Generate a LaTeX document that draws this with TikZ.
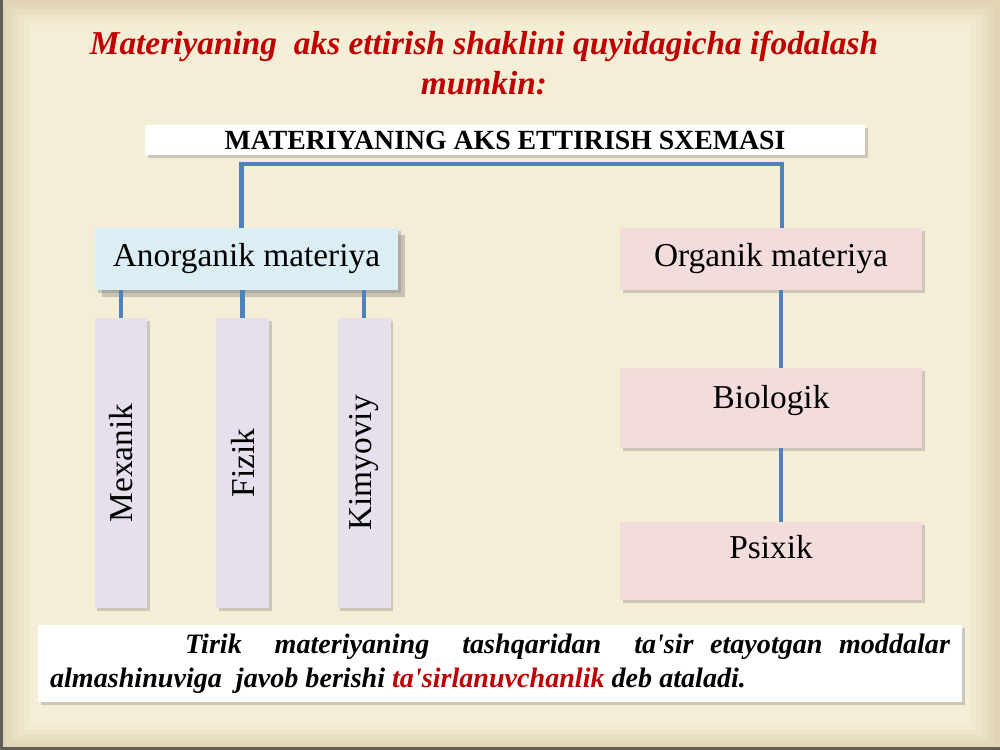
\documentclass[tikz,border=0pt]{standalone}
\usepackage{fontspec}
\setmainfont{Liberation Serif}
\usepackage{graphicx}
\usetikzlibrary{positioning,shadows}
\definecolor{titlered}{RGB}{192,0,0}
\definecolor{linkblue}{RGB}{79,129,189}
\definecolor{anorgblue}{RGB}{219,238,243}
\definecolor{orgpink}{RGB}{242,221,220}
\definecolor{kindlilac}{RGB}{229,224,236}
\definecolor{pagecream}{RGB}{245,238,215}
\definecolor{pagetan}{RGB}{224,212,180}
\definecolor{pageedge}{RGB}{95,95,85}

\begin{document}
\begin{tikzpicture}[
    x=0.02cm, y=-0.02cm,
    box/.style={rectangle, draw=none, inner sep=0pt, align=center, font=\fontsize{19}{23}\selectfont, drop shadow={shadow xshift=1.5pt, shadow yshift=-1.5pt, opacity=0.35}},
    kind/.style={box, fill=kindlilac, minimum width=1.06cm, minimum height=5.8cm},
    orgbox/.style={box, fill=orgpink, minimum width=6.04cm},
    link/.style={linkblue, line width=2.3pt}
]

% Page background, a soft frame
\fill[pagetan] (0,0) rectangle (1000,750);
\foreach \i in {1,...,5}
    \fill[pagecream!\the\numexpr 20*\i\relax!pagetan] (6*\i,5*\i) rectangle (1000-6*\i,750-5*\i);
\fill[pageedge] (0,0) rectangle (3,750);
\fill[pageedge] (0,747) rectangle (1000,750);
\useasboundingbox (0,0) rectangle (1000,750);

% Title and header
\node[align=center, text=titlered, font=\fontsize{19}{22.7}\selectfont\bfseries\itshape] (title) at (484,63)
    {Materiyaning\ \ aks ettirish shaklini quyidagicha ifodalash\\mumkin:};
\node[box, fill=white, minimum width=14.4cm, minimum height=0.6cm, font=\fontsize{15.8}{18}\selectfont\bfseries] (head) at (505,140)
    {MATERIYANING AKS ETTIRISH SXEMASI};

% Two main branches
\node[box, fill=anorgblue, minimum width=6.06cm, minimum height=1.24cm,
      drop shadow={shadow xshift=4pt, shadow yshift=-4pt, opacity=0.4}] (anorg) at (246.5,259) {Anorganik materiya};
\node[orgbox, minimum height=1.24cm] (org) at (771,259) {Organik materiya};

% Inorganic kinds
\node[kind] (mex) at (121,463) {\rotatebox{90}{Mexanik}};
\node[kind] (fiz) at (242.5,463) {\rotatebox{90}{Fizik}};
\node[kind] (kim) at (364,463) {\rotatebox{90}{Kimyoviy}};

% Organic kinds
\node[orgbox, minimum height=1.6cm, text height=0.45cm, text depth=0.45cm] (bio) at (771,408) {Biologik};
\node[orgbox, minimum height=1.56cm, text height=0.45cm, text depth=0.55cm] (psi) at (771,561) {Psixik};

% Note at the bottom
\node[box, fill=white, minimum width=18.48cm, minimum height=1.54cm, text width=18cm, align=justify,
      font=\fontsize{16}{19.5}\selectfont\bfseries\itshape] (note) at (500,663.5)
    {\hspace*{2.7cm}Tirik\ \ materiyaning\ \ tashqaridan\ \ ta\textquotesingle sir etayotgan moddalar\linebreak
     almashinuviga\ \ javob berishi \textcolor{titlered}{ta\textquotesingle sirlanuvchanlik} deb ataladi.};

% Connectors
\coordinate (hub) at (512,164);
\draw[link] ([xshift=-0.1cm]anorg.north) |- (hub) -| ([xshift=0.22cm]org.north);
\foreach \k in {mex,fiz,kim}
    \draw[link] (\k.north |- anorg.south) -- (\k.north);
\draw[link] ([xshift=0.2cm]org.south) -- ([xshift=0.2cm]bio.north);
\draw[link] ([xshift=0.2cm]bio.south) -- ([xshift=0.2cm]psi.north);

\end{tikzpicture}
\end{document}
